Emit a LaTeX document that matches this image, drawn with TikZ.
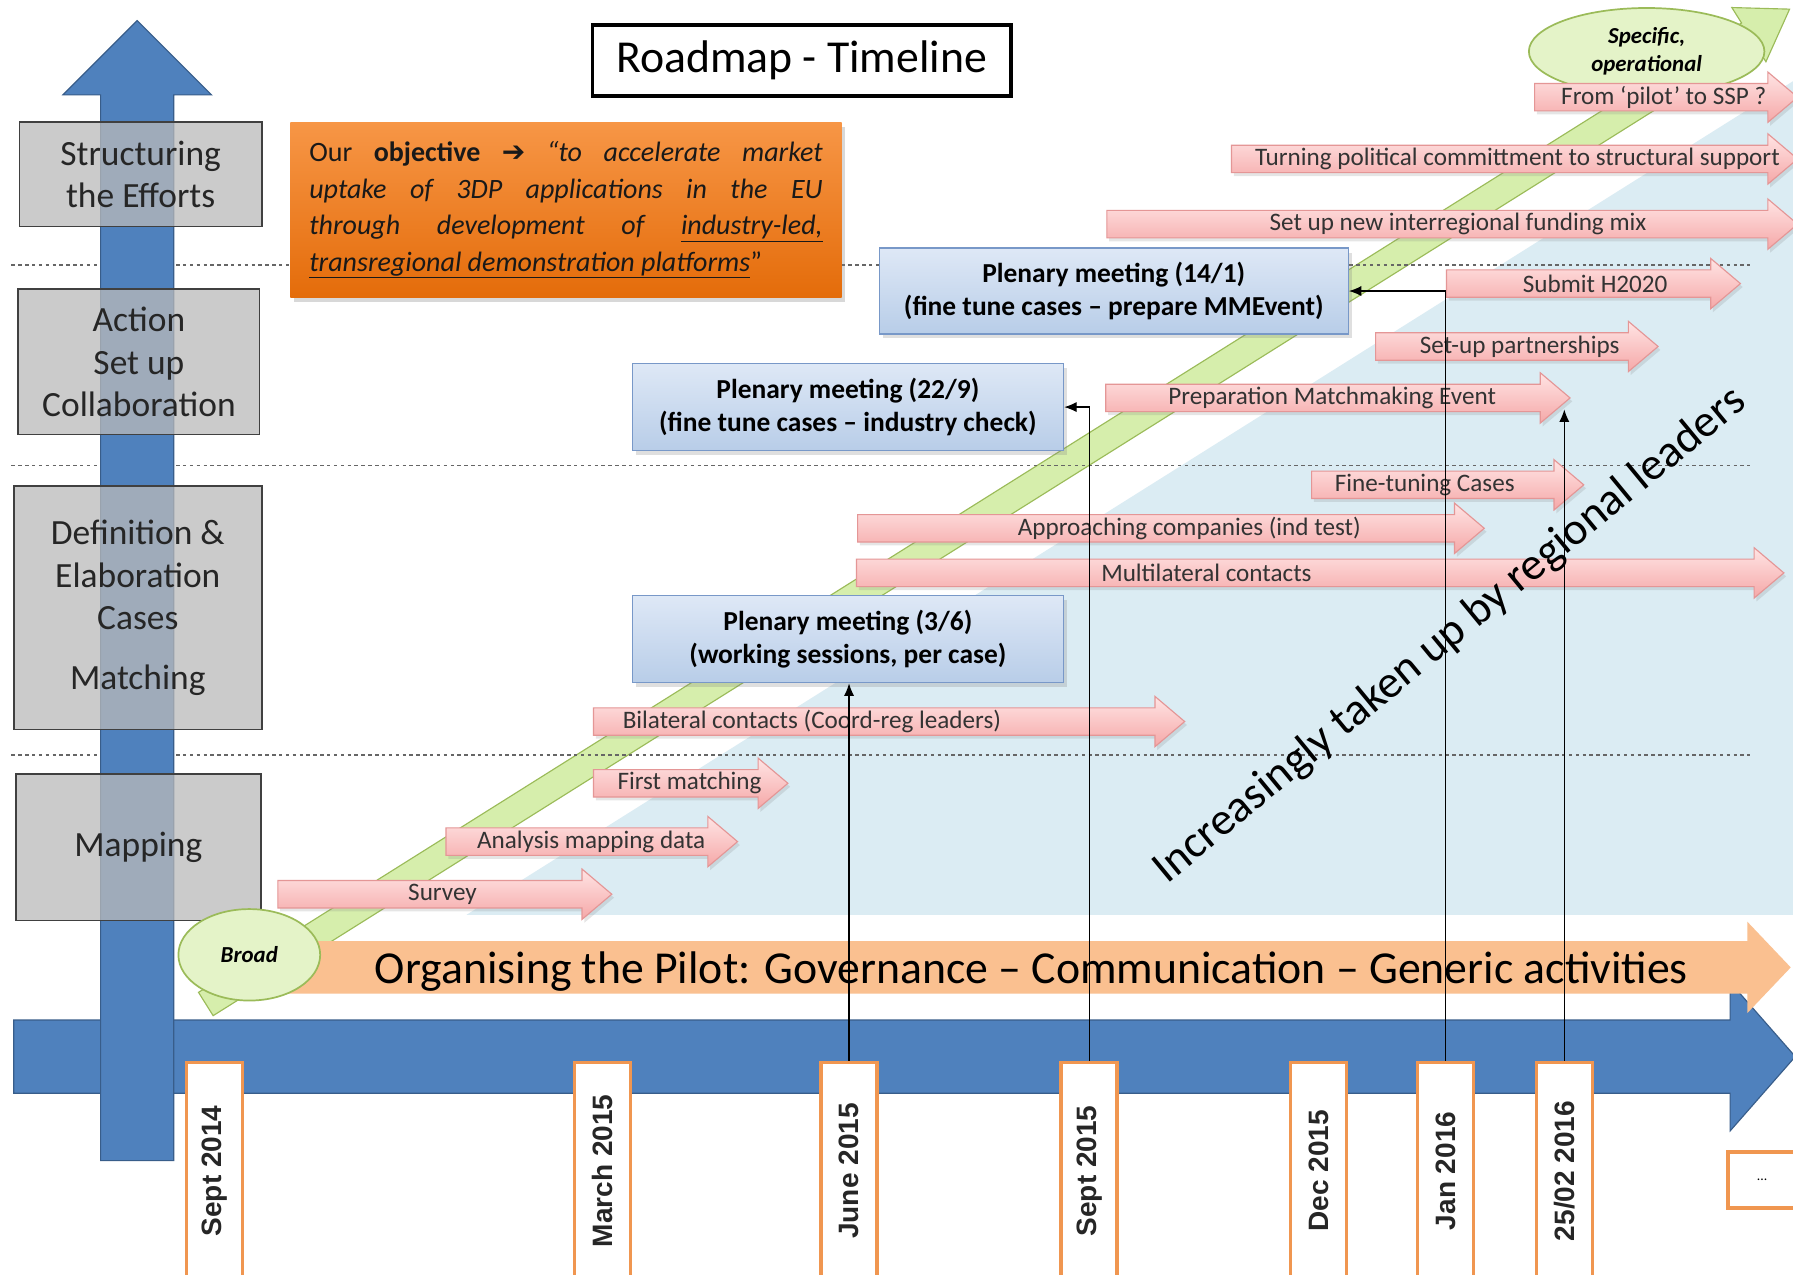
\documentclass[tikz,border=0pt]{standalone}
\usepackage{fontspec}
\setmainfont{Carlito}
\newfontfamily\datefont{Liberation Sans}
\newfontfamily\symfont{DejaVu Sans}
\usetikzlibrary{shapes.geometric,shadows,arrows.meta}

\definecolor{roadblue}{RGB}{79,129,189}
\definecolor{roadedge}{RGB}{56,93,138}
\definecolor{bgblue}{RGB}{219,236,243}
\definecolor{bandfill}{RGB}{214,238,172}
\definecolor{greenedge}{RGB}{155,187,89}
\definecolor{stagefill}{RGB}{228,243,200}
\definecolor{govorange}{RGB}{250,192,144}
\definecolor{goaltop}{RGB}{247,150,70}
\definecolor{goalbot}{RGB}{228,108,10}
\definecolor{meettop}{RGB}{222,232,246}
\definecolor{meetbot}{RGB}{184,205,232}
\definecolor{meetedge}{RGB}{120,152,200}
\definecolor{tasktop}{RGB}{255,228,228}
\definecolor{taskbot}{RGB}{245,168,168}
\definecolor{taskedge}{RGB}{228,150,150}
\definecolor{dateedge}{RGB}{240,150,80}

\begin{document}
\begin{tikzpicture}[x=1pt, y=-1pt,
	every node/.style={inner sep=0pt},
	phasebox/.style={draw=black!75, line width=1.5pt, fill=black!27, fill opacity=0.75,
		text opacity=1, text=black!85, align=center, font=\fontsize{31}{37}\selectfont},
	meetbox/.style={draw=meetedge, line width=1.2pt, top color=meettop, bottom color=meetbot,
		align=center, font=\bfseries\fontsize{24}{29}\selectfont,
		drop shadow={opacity=0.25, shadow xshift=3pt, shadow yshift=-4pt}},
	taskarrow/.style={draw=taskedge, line width=1pt, top color=tasktop, bottom color=taskbot,
		drop shadow={opacity=0.2, shadow xshift=2pt, shadow yshift=-3pt}},
	tasklabel/.style={font=\fontsize{22}{22}\selectfont, text=black!80},
	datebox/.style={draw=dateedge, line width=3pt, fill=white, rotate=90,
		minimum width=190, minimum height=49,
		font=\datefont\bfseries\fontsize{24.5}{24.5}\selectfont, text=black!85},
	stage/.style={ellipse, draw=greenedge, line width=1.5pt, fill=stagefill,
		font=\bfseries\itshape\fontsize{20}{25}\selectfont, align=center},
	phaseline/.style={draw=black!60, line width=1.5pt, dash pattern=on 3pt off 3pt},
	link/.style={draw=black, line width=1.2pt, -{Latex[length=11pt,width=9pt]}}]

	\useasboundingbox (0,0) rectangle (1568,1115);
	\clip (0,0) rectangle (1568,1115);
	\fill[white] (0,0) rectangle (1568,1115);

	% regional wedge
	\fill[bgblue] (408,800) -- (1568,800) -- (1568,71) -- cycle;

	% broad -> specific band
	\draw[greenedge, fill=bandfill, line width=1pt]
		(173.6,867.8) -- (1523.0,20.1) -- (1514.5,6.6) -- (1565,8)
		-- (1544.3,54.0) -- (1535.8,40.5) -- (186.4,888.2) -- cycle;

	% phase separators
	\foreach \y in {232,407,660}
		\draw[phaseline] (10,\y) -- (1530,\y);

	% time axes
	\draw[roadedge, fill=roadblue, line width=1pt]
		(12,892) -- (1513,892) -- (1513,859) -- (1570,924) -- (1513,989) -- (1513,956) -- (12,956) -- cycle;
	\draw[roadedge, fill=roadblue, line width=1pt]
		(88,1015) -- (88,83) -- (55,83) -- (120,18) -- (185,83) -- (152,83) -- (152,1015) -- cycle;

	% governance band
	\fill[govorange] (200,823) -- (1528,823) -- (1528,806) -- (1566,846) -- (1528,886) -- (1528,869) -- (200,869) -- cycle;
	\node[font=\fontsize{40}{40}\selectfont] (pilot) at (902,850)
		{Organising the Pilot: Governance -- Communication -- Generic activities};

	% phases
	\node[phasebox, minimum width=212, minimum height=91] (struct) at (123,152.5) {Structuring\\the Efforts};
	\node[phasebox, minimum width=211, minimum height=127] (action) at (121.5,316.5) {Action\\Set up\\Collaboration};
	\node[phasebox, minimum width=217, minimum height=213] (define) at (120.5,531.5) {Definition \&\\Elaboration\\Cases\\[15pt]Matching};
	\node[phasebox, minimum width=214, minimum height=128] (mapping) at (121,741) {Mapping};

	% title and objective
	\node[draw, line width=3pt, fill=white, minimum width=366, minimum height=62,
		font=\fontsize{40}{40}\selectfont] (title) at (701,53) {Roadmap - Timeline};
	\node[top color=goaltop, bottom color=goalbot, minimum width=482, minimum height=153,
		drop shadow={opacity=0.3, shadow xshift=3pt, shadow yshift=-4pt}, text=black!90] (goal) at (495,183.5)
		{\parbox{449pt}{\fontsize{24.5}{32}\selectfont Our \textbf{objective} {\symfont\bfseries ➔} \textit{“to accelerate market}\linebreak
		\textit{uptake of 3DP applications in the EU}\linebreak
		\textit{through development of \underline{industry-led,}}\linebreak
		\textit{\underline{transregional demonstration platforms}}”}};

	% stages
	\node[stage, minimum width=124, minimum height=80] (broad) at (218,835) {Broad};
	\node[stage, minimum width=206, minimum height=76] (specific) at (1440,45) {Specific,\\operational};

	% activities
	\foreach \xl/\xr/\yc/\xt/\txt [count=\i] in {
		1342/1572/85/1455/{From ‘pilot’ to SSP ?},
		1077/1572/139/1327/{Turning political committment to structural support},
		968/1572/196/1275/{Set up new interregional funding mix},
		1265/1522/248/1395/{Submit H2020},
		1203/1450/303/1329/{Set-up partnerships},
		967/1373/348/1165/{Preparation Matchmaking Event},
		1147/1385/424/1246/{Fine-tuning Cases},
		750/1298/462/1040/{Approaching companies (ind test)},
		749/1560/501/1055/{Multilateral contacts},
		519/1036/631/710/{Bilateral contacts (Coord-reg leaders)},
		519/689/685/603/{First matching},
		390/645/736/517/{Analysis mapping data},
		243/535/782/387/{Survey}}
	{
		\draw[taskarrow] (\xl,\yc-12) -- (\xr-26,\yc-12) -- (\xr-26,\yc-22) -- (\xr,\yc)
			-- (\xr-26,\yc+22) -- (\xr-26,\yc+12) -- (\xl,\yc+12) -- cycle;
		\node[tasklabel] (task\i) at (\xt,\yc) {\txt};
	}

	% plenary meetings
	\node[meetbox, minimum width=410, minimum height=75] (pm141) at (974,254.5)
		{Plenary meeting (14/1)\\(fine tune cases -- prepare MMEvent)};
	\node[meetbox, minimum width=377, minimum height=76] (pm229) at (741.5,356)
		{Plenary meeting (22/9)\\(fine tune cases -- industry check)};
	\node[meetbox, minimum width=377, minimum height=76] (pm36) at (741.5,559)
		{Plenary meeting (3/6)\\(working sessions, per case)};

	\node[rotate=39.5, font=\fontsize{40}{40}\selectfont] (uptake) at (1268,556)
		{Increasingly taken up by regional leaders};

	% milestones
	\foreach \nm/\xc/\txt in {sep14/187.5/Sept 2014, mar15/527/March 2015, jun15/742.5/June 2015,
		sep15/952.5/Sept 2015, dec15/1153/Dec 2015, jan16/1264/Jan 2016, feb16/1368/{25/02 2016}}
		\node[datebox] (\nm) at (\xc,1024) {\txt};
	\node[draw=dateedge, line width=3pt, fill=white, minimum width=60, minimum height=49,
		font=\fontsize{12}{12}\selectfont] (more) at (1541,1032) {...};

	% links to meetings
	\coordinate (prepend) at (1368,358);
	\draw[link] (jun15.east) -- (jun15.east |- pm36.south);
	\draw[link] (sep15.east) |- (pm229.east);
	\draw[link] (jan16.east) |- (pm141.east);
	\draw[link] (feb16.east) -- (prepend);
\end{tikzpicture}
\end{document}
